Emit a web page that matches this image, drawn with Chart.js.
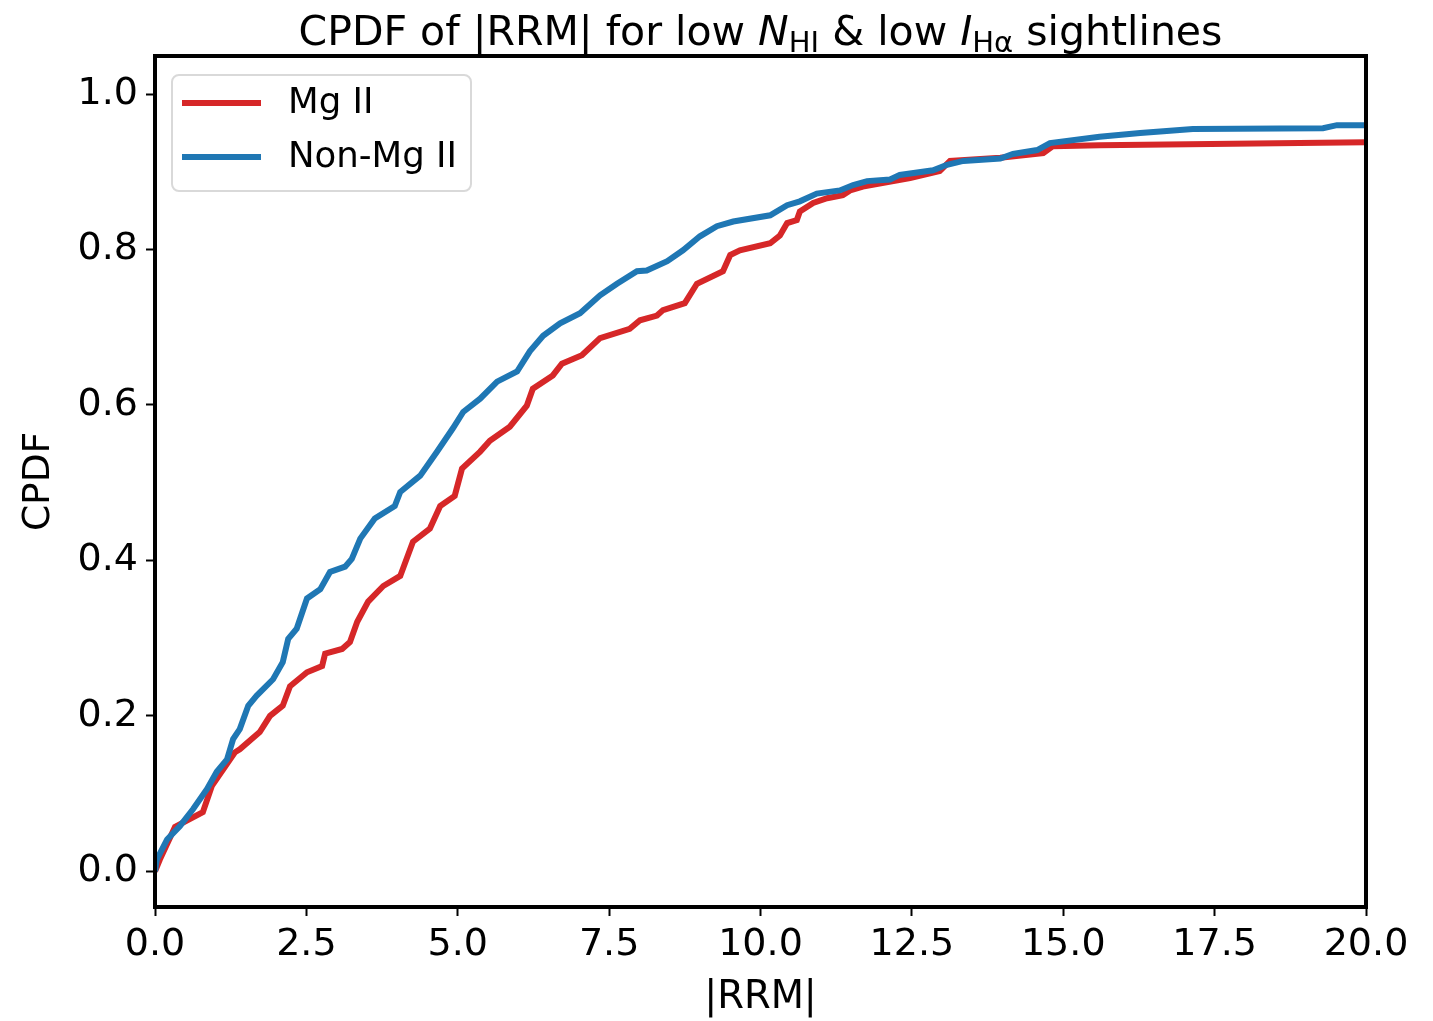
<!DOCTYPE html>
<html>
<head>
<meta charset="utf-8">
<script src="https://cdn.jsdelivr.net/npm/chart.js@4"></script>
<style>
  body { margin: 0; background: #fff; }
  #wrap { width: 1433px; height: 1021px; position: relative; }
</style>
</head>
<body>
<div id="wrap"><canvas id="cpdfChart"></canvas></div>
<script>
// Data (|RRM| vs cumulative fraction)
const mgX = [0, 0.08, 0.33, 0.79, 0.94, 1.32, 1.40, 1.73, 1.90, 2.11, 2.23, 2.51, 2.76, 2.81, 3.09, 3.22, 3.34, 3.52, 3.77, 4.05, 4.26, 4.54, 4.71, 4.95, 5.07, 5.37, 5.53, 5.86, 6.14, 6.24, 6.57, 6.72, 7.05, 7.35, 7.84, 8.01, 8.29, 8.39, 8.75, 8.95, 9.38, 9.50, 9.66, 10.16, 10.32, 10.44, 10.60, 10.65, 10.87, 11.10, 11.36, 11.48, 11.69, 12.47, 12.96, 13.13, 13.96, 14.67, 14.83, 15.6, 20];
const mgY = [0, 0.015, 0.057, 0.076, 0.11, 0.153, 0.157, 0.179, 0.20, 0.213, 0.238, 0.256, 0.264, 0.28, 0.286, 0.295, 0.321, 0.347, 0.367, 0.38, 0.424, 0.441, 0.47, 0.483, 0.518, 0.54, 0.554, 0.572, 0.599, 0.621, 0.638, 0.653, 0.664, 0.686, 0.698, 0.709, 0.715, 0.722, 0.731, 0.756, 0.772, 0.793, 0.799, 0.808, 0.818, 0.834, 0.838, 0.849, 0.86, 0.866, 0.87, 0.876, 0.881, 0.892, 0.901, 0.914, 0.918, 0.924, 0.933, 0.934, 0.938];

const nonX = [0, 0.03, 0.2, 0.41, 0.63, 0.86, 1.02, 1.19, 1.29, 1.40, 1.54, 1.68, 1.95, 2.11, 2.20, 2.34, 2.51, 2.73, 2.89, 3.14, 3.25, 3.39, 3.63, 3.96, 4.05, 4.38, 4.66, 4.92, 5.09, 5.37, 5.65, 5.98, 6.19, 6.41, 6.69, 7.02, 7.35, 7.63, 7.96, 8.12, 8.46, 8.72, 9.0, 9.28, 9.55, 10.16, 10.44, 10.65, 10.93, 11.31, 11.53, 11.76, 12.14, 12.30, 12.85, 13.08, 13.35, 13.96, 14.17, 14.57, 14.78, 15.6, 16.27, 16.6, 17.14, 19.29, 19.52, 20];
const nonY = [0, 0.015, 0.041, 0.058, 0.08, 0.106, 0.128, 0.144, 0.17, 0.183, 0.213, 0.226, 0.247, 0.269, 0.299, 0.312, 0.351, 0.363, 0.385, 0.392, 0.402, 0.428, 0.454, 0.47, 0.488, 0.509, 0.54, 0.57, 0.591, 0.608, 0.63, 0.643, 0.669, 0.689, 0.705, 0.718, 0.741, 0.756, 0.772, 0.773, 0.785, 0.799, 0.817, 0.83, 0.836, 0.844, 0.857, 0.862, 0.872, 0.876, 0.883, 0.888, 0.89, 0.896, 0.902, 0.909, 0.914, 0.917, 0.923, 0.928, 0.937, 0.945, 0.95, 0.952, 0.955, 0.956, 0.96, 0.96];

const seriesNames = ['Mg II', 'Non-Mg II'];
const xTicks = [0, 2.5, 5, 7.5, 10, 12.5, 15, 17.5, 20];
const yTicks = [0, 0.2, 0.4, 0.6, 0.8, 1.0];

const RED = '#d62728';
const BLUE = '#1f77b4';
const FONT = 'DejaVu Sans';

const toPoints = (xs, ys) => xs.map((x, i) => ({ x: x, y: ys[i] }));

// Title with italic symbols and subscripts, drawn on the canvas
const titlePlugin = {
    id: 'mplTitle',
    afterDraw(chart) {
        const ctx = chart.ctx;
        const parts = [
            { t: 'CPDF of |RRM| for low ', style: '', size: 41, dy: 0 },
            { t: 'N', style: 'italic ', size: 41, dy: 0 },
            { t: 'HI', style: '', size: 29, dy: 7 },
            { t: ' & low ', style: '', size: 41, dy: 0 },
            { t: 'I', style: 'italic ', size: 41, dy: 0 },
            { t: 'Hα', style: '', size: 29, dy: 7 },
            { t: ' sightlines', style: '', size: 41, dy: 0 }
        ];
        ctx.save();
        let total = 0;
        parts.forEach(p => {
            ctx.font = p.style + p.size + 'px "' + FONT + '"';
            p.w = ctx.measureText(p.t).width;
            total += p.w;
        });
        const area = chart.chartArea;
        let x = (area.left + area.right) / 2 - total / 2;
        const baseY = 45;
        ctx.fillStyle = '#000';
        ctx.textBaseline = 'alphabetic';
        ctx.textAlign = 'left';
        parts.forEach(p => {
            ctx.font = p.style + p.size + 'px "' + FONT + '"';
            ctx.fillText(p.t, x, baseY + p.dy);
            x += p.w;
        });
        ctx.restore();
    }
};

// Axes frame + legend box inside the plot area
const framePlugin = {
    id: 'mplFrame',
    afterDatasetsDraw(chart) {
        const ctx = chart.ctx;
        const a = chart.chartArea;
        ctx.save();
        ctx.strokeStyle = '#000';
        ctx.lineWidth = 4;
        ctx.strokeRect(a.left, a.top, a.right - a.left, a.bottom - a.top);

        // legend
        const bx = a.left + 17, by = a.top + 19, bw = 299, bh = 116;
        ctx.beginPath();
        ctx.roundRect(bx, by, bw, bh, 7);
        ctx.fillStyle = 'rgba(255,255,255,0.8)';
        ctx.fill();
        ctx.lineWidth = 2;
        ctx.strokeStyle = '#d9d9d9';
        ctx.stroke();

        ctx.font = '35.5px "' + FONT + '"';
        ctx.textBaseline = 'middle';
        ctx.textAlign = 'left';
        chart.data.datasets.forEach((ds, i) => {
            const ly = by + 28 + i * 54;
            ctx.beginPath();
            ctx.moveTo(bx + 10, ly);
            ctx.lineTo(bx + 89, ly);
            ctx.strokeStyle = ds.borderColor;
            ctx.lineWidth = 6;
            ctx.stroke();
            ctx.fillStyle = '#000';
            ctx.fillText(ds.label, bx + 116, ly + 1);
        });
        ctx.restore();
    }
};

new Chart(document.getElementById('cpdfChart'), {
    type: 'line',
    data: {
        datasets: [
            {
                label: seriesNames[0],
                data: toPoints(mgX, mgY),
                borderColor: RED,
                borderWidth: 6,
                pointRadius: 0,
                tension: 0,
                fill: false,
                order: 1
            },
            {
                label: seriesNames[1],
                data: toPoints(nonX, nonY),
                borderColor: BLUE,
                borderWidth: 6,
                pointRadius: 0,
                tension: 0,
                fill: false,
                order: 0
            }
        ]
    },
    options: {
        responsive: true,
        maintainAspectRatio: false,
        animation: false,
        layout: { padding: { top: 56, right: 67, left: 17, bottom: 0 } },
        plugins: {
            legend: { display: false },
            title: { display: false },
            tooltip: { enabled: false }
        },
        scales: {
            x: {
                type: 'linear',
                min: 0,
                max: 20,
                afterBuildTicks: scale => { scale.ticks = xTicks.map(v => ({ value: v })); },
                afterFit: scale => { scale.height = 1021 - 907; },
                grid: { drawOnChartArea: false, tickLength: 9, tickWidth: 2, tickColor: '#000' },
                border: { display: false },
                ticks: {
                    color: '#000',
                    padding: 6,
                    maxRotation: 0,
                    font: { family: FONT, size: 38 },
                    callback: v => v.toFixed(1)
                },
                title: {
                    display: true,
                    text: '|RRM|',
                    color: '#000',
                    padding: 0,
                    font: { family: FONT, size: 38.5 }
                }
            },
            y: {
                type: 'linear',
                min: -0.046,
                max: 1.049,
                afterBuildTicks: scale => { scale.ticks = yTicks.map(v => ({ value: v })); },
                afterFit: scale => { scale.width = 155 - 17; },
                grid: { drawOnChartArea: false, tickLength: 9, tickWidth: 2, tickColor: '#000' },
                border: { display: false },
                ticks: {
                    color: '#000',
                    padding: 8,
                    font: { family: FONT, size: 38 },
                    callback: v => v.toFixed(1)
                },
                title: {
                    display: true,
                    text: 'CPDF',
                    color: '#000',
                    padding: 0,
                    font: { family: FONT, size: 37.5 }
                }
            }
        }
    },
    plugins: [titlePlugin, framePlugin]
});
</script>
</body>
</html>
